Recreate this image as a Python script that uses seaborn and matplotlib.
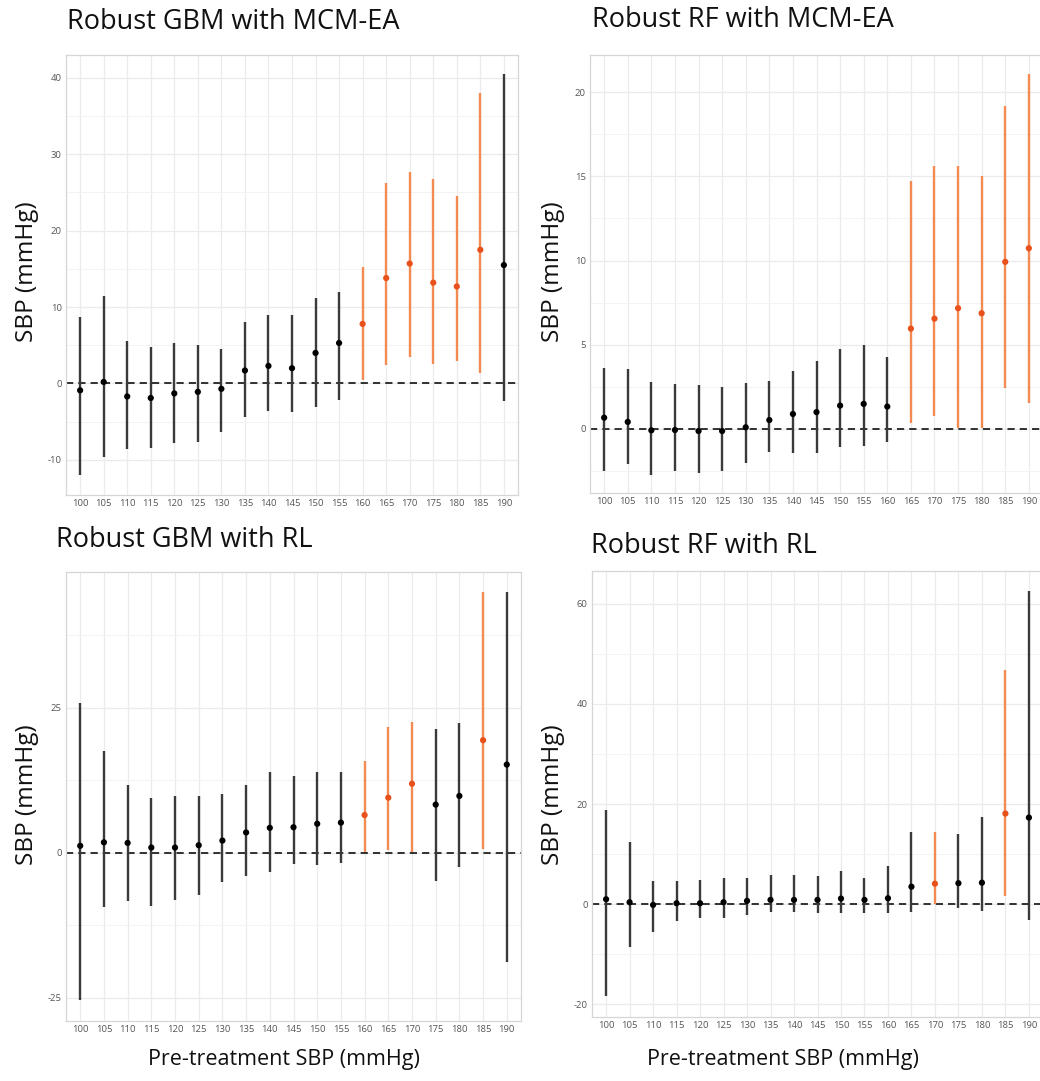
import numpy as np
import pandas as pd
import seaborn as sns
import matplotlib.pyplot as plt
from matplotlib.ticker import MultipleLocator

# pre-treatment SBP groups
sbp = [100, 105, 110, 115, 120, 125, 130, 135, 140, 145,
       150, 155, 160, 165, 170, 175, 180, 185, 190]

# Robust GBM with MCM-EA
gbm_mcm_est = [-0.9, 0.2, -1.7, -1.9, -1.3, -1.1, -0.7, 1.7, 2.3, 2.0,
               4.0, 5.3, 7.8, 13.8, 15.7, 13.2, 12.7, 17.5, 15.5]
gbm_mcm_lo = [-12.0, -9.6, -8.6, -8.5, -7.8, -7.6, -6.3, -4.4, -3.6, -3.8,
              -3.1, -2.2, 0.4, 2.4, 3.4, 2.5, 3.0, 1.4, -2.3]
gbm_mcm_hi = [8.7, 11.4, 5.5, 4.8, 5.3, 5.0, 4.5, 8.1, 9.0, 9.0,
              11.2, 12.0, 15.3, 26.2, 27.7, 26.8, 24.6, 38.0, 40.5]
gbm_mcm_sig = [160, 165, 170, 175, 180, 185]

# Robust RF with MCM-EA
rf_mcm_est = [0.67, 0.42, -0.08, -0.06, -0.12, -0.12, 0.1, 0.53, 0.89, 1.0,
              1.39, 1.49, 1.33, 5.96, 6.55, 7.17, 6.87, 9.92, 10.73]
rf_mcm_lo = [-2.5, -2.1, -2.73, -2.5, -2.6, -2.5, -2.0, -1.35, -1.45, -1.4,
             -1.05, -1.0, -0.75, 0.34, 0.77, 0.04, 0.04, 2.46, 1.52]
rf_mcm_hi = [3.64, 3.56, 2.8, 2.7, 2.6, 2.5, 2.75, 2.87, 3.47, 4.06,
             4.73, 5.0, 4.26, 14.75, 15.6, 15.6, 15.0, 19.15, 21.07]
rf_mcm_sig = [165, 170, 175, 180, 185, 190]

# Robust GBM with RL
gbm_rl_est = [1.2, 1.8, 1.7, 0.9, 0.9, 1.3, 2.1, 3.5, 4.3, 4.4,
              5.0, 5.2, 6.5, 9.5, 11.9, 8.3, 9.8, 19.4, 15.2]
gbm_rl_lo = [-25.4, -9.4, -8.3, -9.2, -8.2, -7.3, -5.1, -4.0, -3.3, -2.0,
             -2.1, -1.8, 0.2, 0.5, 0.2, -4.8, -2.4, 0.6, -18.8]
gbm_rl_hi = [25.9, 17.6, 11.6, 9.4, 9.8, 9.8, 10.1, 11.6, 13.9, 13.2,
             14.0, 13.9, 15.9, 21.7, 22.6, 21.3, 22.4, 44.9, 44.9]
gbm_rl_sig = [160, 165, 170, 185]

# Robust RF with RL
rf_rl_est = [1.0, 0.4, -0.13, 0.2, 0.2, 0.4, 0.67, 0.87, 0.87, 0.87,
             1.13, 0.87, 1.2, 3.5, 4.1, 4.2, 4.3, 18.1, 17.3]
rf_rl_lo = [-18.3, -8.5, -5.5, -3.3, -2.8, -2.8, -2.1, -1.6, -1.6, -1.8,
            -1.8, -1.8, -1.8, -1.6, 0.0, -0.8, -1.3, 1.7, -3.1]
rf_rl_hi = [18.9, 12.5, 4.7, 4.7, 4.9, 5.2, 5.2, 5.8, 5.8, 5.7,
            6.7, 5.3, 7.7, 14.4, 14.5, 14.1, 17.4, 46.7, 62.5]
rf_rl_sig = [170, 185]

sns.set_theme(style='white')
plt.rcParams['font.family'] = ['Open Sans', 'DejaVu Sans']
plt.rcParams['axes.unicode_minus'] = False

W, H = 1040, 1081
fig = plt.figure(figsize=(W / 100, H / 100), dpi=100)


def px_axes(x0, y0, x1, y1):
    # axes box given in pixels from top-left
    return fig.add_axes([x0 / W, 1 - y1 / H, (x1 - x0) / W, (y1 - y0) / H])


def draw_panel(ax, est, lo, hi, sig, ylim, major, minor):
    df = pd.DataFrame({'SBP': sbp, 'est': est, 'lo': lo, 'hi': hi})
    df['sig'] = df['SBP'].isin(sig)

    ax.set_xlim(97, 193)
    ax.set_ylim(*ylim)
    ax.set_xticks(sbp)
    ax.set_xticklabels([str(s) for s in sbp])
    ax.yaxis.set_major_locator(MultipleLocator(major))
    ax.yaxis.set_minor_locator(MultipleLocator(minor))
    ax.grid(True, which='major', color='#ebebeb', lw=0.9, zorder=0)
    ax.grid(True, which='minor', axis='y', color='#f3f3f3', lw=0.7, zorder=0)
    ax.set_axisbelow(True)

    ax.axhline(0, color='#222222', ls=(0, (4, 2.8)), lw=1.3, zorder=2)

    line_col = df['sig'].map({True: '#f28a52', False: '#3a3a3a'})
    ax.vlines(df['SBP'], df['lo'], df['hi'], colors=line_col, lw=1.7, zorder=3)
    sns.scatterplot(data=df, x='SBP', y='est', hue='sig',
                    palette={True: '#e8501c', False: '#000000'},
                    s=20, edgecolor='none', legend=False, ax=ax, zorder=4)

    for sp in ax.spines.values():
        sp.set_color('#d6d6d6')
        sp.set_linewidth(0.9)
    ax.tick_params(axis='both', which='both', length=0, pad=3,
                   labelsize=6.8, labelcolor='#555555')
    ax.set_xlabel('')
    ax.set_ylabel('')


ax1 = px_axes(66, 55, 518, 495)
draw_panel(ax1, gbm_mcm_est, gbm_mcm_lo, gbm_mcm_hi, gbm_mcm_sig,
           (-14.6, 43.0), 10, 5)
ax2 = px_axes(590, 55, 1043, 493)
draw_panel(ax2, rf_mcm_est, rf_mcm_lo, rf_mcm_hi, rf_mcm_sig,
           (-3.8, 22.2), 5, 2.5)
ax3 = px_axes(66, 572, 521, 1021)
draw_panel(ax3, gbm_rl_est, gbm_rl_lo, gbm_rl_hi, gbm_rl_sig,
           (-29.0, 48.4), 25, 12.5)
ax4 = px_axes(592, 571, 1043, 1017)
draw_panel(ax4, rf_rl_est, rf_rl_lo, rf_rl_hi, rf_rl_sig,
           (-22.5, 66.5), 20, 10)

# titles and labels
title_kw = dict(fontsize=19.5, color='#111111', va='center', ha='left')
fig.text(67 / W, 1 - 22 / H, 'Robust GBM with MCM-EA', **title_kw)
fig.text(592 / W, 1 - 20 / H, 'Robust RF with MCM-EA', **title_kw)
fig.text(56 / W, 1 - 540 / H, 'Robust GBM with RL', **title_kw)
fig.text(591 / W, 1 - 546 / H, 'Robust RF with RL', **title_kw)

ylab_kw = dict(fontsize=17.5, color='#111111', rotation=90, va='center', ha='center')
fig.text(27 / W, 1 - 272 / H, 'SBP (mmHg)', **ylab_kw)
fig.text(553 / W, 1 - 272 / H, 'SBP (mmHg)', **ylab_kw)
fig.text(27 / W, 1 - 795 / H, 'SBP (mmHg)', **ylab_kw)
fig.text(553 / W, 1 - 795 / H, 'SBP (mmHg)', **ylab_kw)

xlab_kw = dict(fontsize=15.5, color='#111111', va='center', ha='center')
fig.text(284 / W, 1 - 1060 / H, 'Pre-treatment SBP (mmHg)', **xlab_kw)
fig.text(783 / W, 1 - 1060 / H, 'Pre-treatment SBP (mmHg)', **xlab_kw)

fig.savefig('out.png', dpi=100)
